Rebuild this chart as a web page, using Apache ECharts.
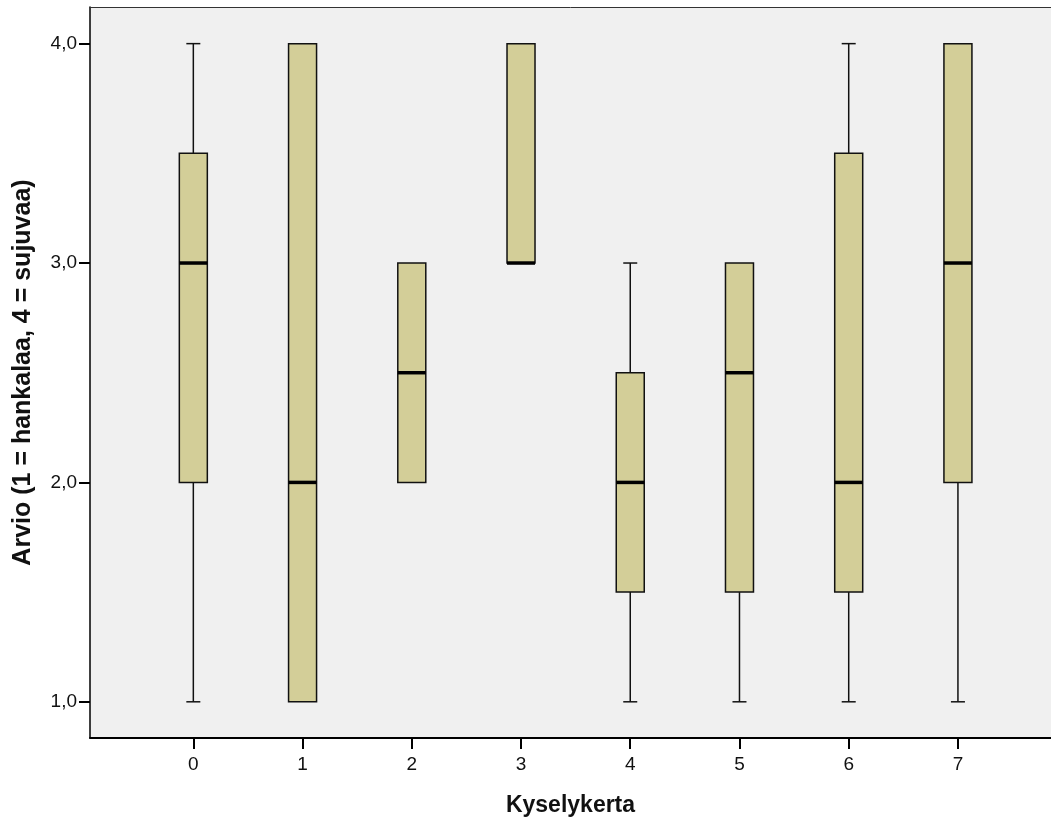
<!DOCTYPE html>
<html>
<head>
<meta charset="utf-8">
<script src="https://cdn.jsdelivr.net/npm/echarts@6/dist/echarts.min.js"></script>
<style>
  html, body { margin: 0; padding: 0; background: #ffffff; }
  #chart { width: 1051px; height: 822px; }
</style>
</head>
<body>
<div id="chart"></div>
<script>
// Survey rounds (Kyselykerta) and five-number summaries of the rating
const categories = [0, 1, 2, 3, 4, 5, 6, 7];
const mins    = [1.0, 1.0, 2.0, 3.0, 1.0, 1.0, 1.0, 1.0];
const q1s     = [2.0, 1.0, 2.0, 3.0, 1.5, 1.5, 1.5, 2.0];
const medians = [3.0, 2.0, 2.5, 3.0, 2.0, 2.5, 2.0, 3.0];
const q3s     = [3.5, 4.0, 3.0, 4.0, 2.5, 3.0, 3.5, 4.0];
const maxs    = [4.0, 4.0, 3.0, 4.0, 3.0, 3.0, 4.0, 4.0];
const yTicks  = [1, 2, 3, 4];

const rows = categories.map((c, i) => [c, mins[i], q1s[i], medians[i], q3s[i], maxs[i]]);

const FONT = '"Liberation Sans", Arial, sans-serif';
const BOX_FILL = '#d3ce98';

function renderBox(params, api) {
  const x = api.value(0);
  const lo = api.coord([x, api.value(1)]);
  const q1 = api.coord([x, api.value(2)]);
  const md = api.coord([x, api.value(3)]);
  const q3 = api.coord([x, api.value(4)]);
  const hi = api.coord([x, api.value(5)]);
  const halfBox = 14;
  const halfCap = 7;
  const cx = lo[0];
  const lineStyle = { stroke: '#111', lineWidth: 1.5 };
  const children = [];
  // whiskers
  if (hi[1] < q3[1]) {
    children.push({ type: 'line', shape: { x1: cx, y1: q3[1], x2: cx, y2: hi[1] }, style: lineStyle });
    children.push({ type: 'line', shape: { x1: cx - halfCap, y1: hi[1], x2: cx + halfCap, y2: hi[1] }, style: lineStyle });
  }
  if (lo[1] > q1[1]) {
    children.push({ type: 'line', shape: { x1: cx, y1: q1[1], x2: cx, y2: lo[1] }, style: lineStyle });
    children.push({ type: 'line', shape: { x1: cx - halfCap, y1: lo[1], x2: cx + halfCap, y2: lo[1] }, style: lineStyle });
  }
  // box
  children.push({
    type: 'rect',
    shape: { x: cx - halfBox, y: q3[1], width: halfBox * 2, height: q1[1] - q3[1] },
    style: { fill: BOX_FILL, stroke: '#111', lineWidth: 1.5 }
  });
  // median
  children.push({
    type: 'line',
    shape: { x1: cx - halfBox, y1: md[1], x2: cx + halfBox, y2: md[1] },
    style: { stroke: '#000', lineWidth: 3.5 }
  });
  return { type: 'group', children: children };
}

const chart = echarts.init(document.getElementById('chart'), null, { renderer: 'canvas' });
chart.setOption({
  animation: false,
  backgroundColor: '#ffffff',
  grid: {
    left: 90, top: 7, right: 0, bottom: 83,
    show: true, backgroundColor: '#f0f0f0', borderWidth: 0
  },
  xAxis: [{
    type: 'value',
    min: -0.946, max: 7.852,
    name: 'Kyselykerta',
    nameLocation: 'middle',
    nameGap: 56,
    nameTextStyle: { fontFamily: FONT, fontSize: 23, fontWeight: 'bold', color: '#111' },
    axisLine: { show: true, onZero: false, lineStyle: { color: '#000', width: 2 } },
    axisTick: { show: true, length: 11, customValues: categories, lineStyle: { color: '#000', width: 2 } },
    axisLabel: { customValues: categories, margin: 17, fontFamily: FONT, fontSize: 19, color: '#111' },
    splitLine: { show: false }
  }, {
    // top frame line of the plot area
    type: 'value',
    position: 'top',
    min: -0.946, max: 7.852,
    axisLine: { show: true, onZero: false, lineStyle: { color: '#333', width: 1 } },
    axisTick: { show: false },
    axisLabel: { show: false },
    splitLine: { show: false }
  }],
  yAxis: {
    type: 'value',
    min: 0.835, max: 4.167,
    name: 'Arvio (1 = hankalaa, 4 = sujuvaa)',
    nameLocation: 'middle',
    nameGap: 54,
    nameTextStyle: { fontFamily: FONT, fontSize: 25, fontWeight: 'bold', color: '#111' },
    axisLine: { show: true, onZero: false, lineStyle: { color: '#000', width: 1.5 } },
    axisTick: { show: true, length: 11, customValues: yTicks, lineStyle: { color: '#000', width: 2 } },
    axisLabel: {
      customValues: yTicks, margin: 13, fontFamily: FONT, fontSize: 19, color: '#111',
      formatter: v => v.toFixed(1).replace('.', ',')
    },
    splitLine: { show: false }
  },
  series: [{
    type: 'custom',
    xAxisIndex: 0,
    renderItem: renderBox,
    encode: { x: 0, y: [1, 2, 3, 4, 5] },
    data: rows,
    clip: true
  }]
});
</script>
</body>
</html>
